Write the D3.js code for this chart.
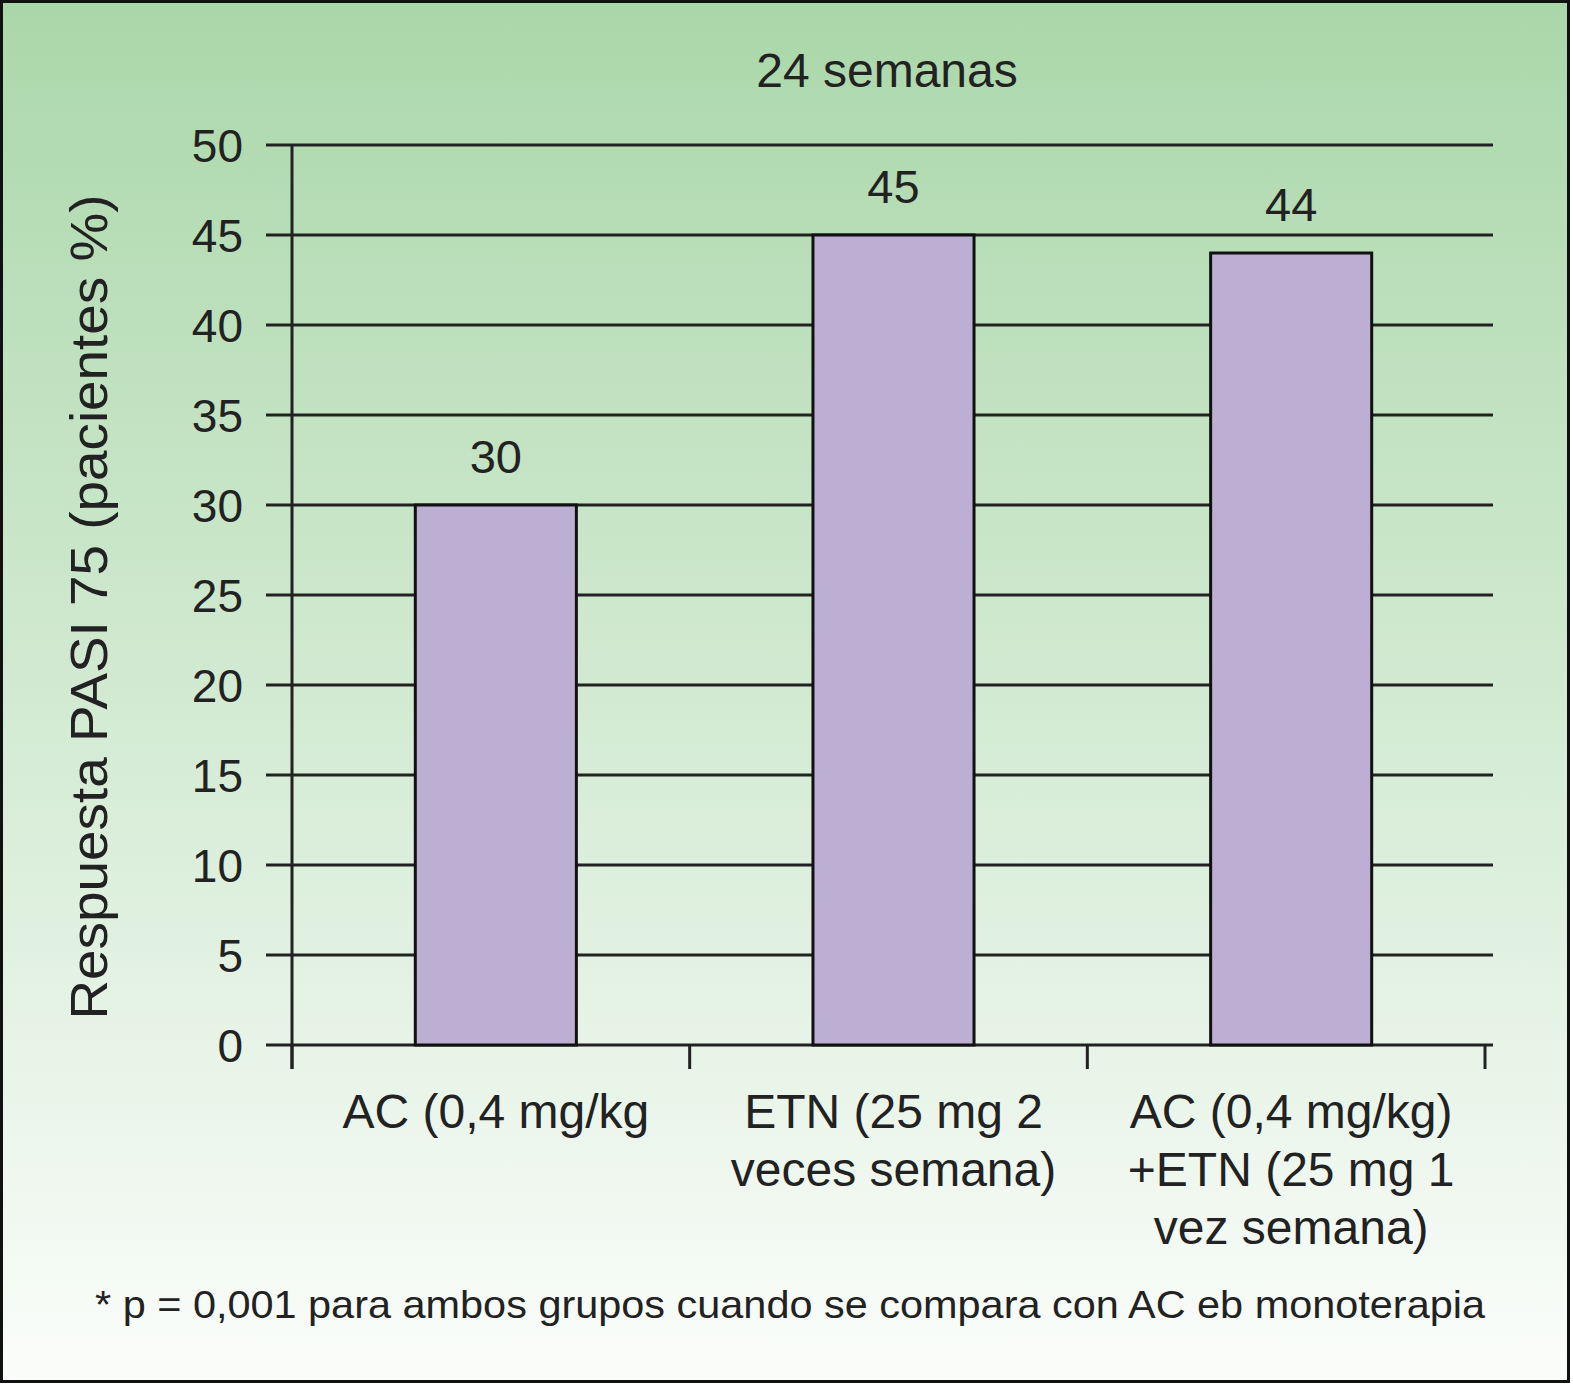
<!DOCTYPE html>
<html>
<head>
<meta charset="utf-8">
<script src="https://cdn.jsdelivr.net/npm/d3@7"></script>
<style>
  body { margin: 0; background: #fff; }
  svg { display: block; font-family: "Liberation Sans", Arial, sans-serif; }
</style>
</head>
<body>
<div class="container"></div>
<script>
// data
let categories = [
    ["AC (0,4 mg/kg"],
    ["ETN (25 mg 2", "veces semana)"],
    ["AC (0,4 mg/kg)", "+ETN (25 mg 1", "vez semana)"]
];
let values = [30, 45, 44];
let yTicks = [0, 5, 10, 15, 20, 25, 30, 35, 40, 45, 50];
let title = "24 semanas";
let yTitle = "Respuesta PASI 75 (pacientes %)";
let footnote = "* p = 0,001 para ambos grupos cuando se compara con AC eb monoterapia";

let W = 1573, H = 1385;
let margin = { top: 145, right: 84, bottom: 340, left: 292 },
    width = W - margin.left - margin.right,
    height = H - margin.top - margin.bottom;

let root = d3.select(".container")
    .append("svg")
    .attr("width", W)
    .attr("height", H);

// background gradient
let grad = root.append("defs").append("linearGradient")
    .attr("id", "bg")
    .attr("x1", 0).attr("y1", 0).attr("x2", 0).attr("y2", 1);
grad.append("stop").attr("offset", "0%").attr("stop-color", "#aad7a9");
grad.append("stop").attr("offset", "50%").attr("stop-color", "#d2ead2");
grad.append("stop").attr("offset", "100%").attr("stop-color", "#fbfdfb");

root.append("rect")
    .attr("x", 1.5).attr("y", 1.5)
    .attr("width", W - 6).attr("height", H - 5)
    .attr("fill", "url(#bg)")
    .attr("stroke", "#111")
    .attr("stroke-width", 3);

let svg = root.append("g")
    .attr("transform", "translate(" + margin.left + "," + margin.top + ")");

let x = d3.scaleBand()
    .domain(d3.range(categories.length))
    .range([0, width - 4])
    .padding(0);

let y = d3.scaleLinear()
    .domain([0, 50])
    .range([height, 0]);

let ink = "#222";

// gridlines + left ticks
svg.append("g")
    .attr("class", "grid")
    .selectAll("line")
    .data(yTicks)
    .enter()
    .append("line")
    .attr("x1", -26)
    .attr("x2", width + 4)
    .attr("y1", d => y(d))
    .attr("y2", d => y(d))
    .attr("stroke", ink)
    .attr("stroke-width", 3);

// tick labels
svg.append("g")
    .selectAll("text")
    .data(yTicks)
    .enter()
    .append("text")
    .attr("x", -49)
    .attr("y", d => y(d))
    .attr("dy", "0.36em")
    .attr("text-anchor", "end")
    .attr("font-size", 46)
    .attr("fill", ink)
    .text(d => d);

// y axis line
svg.append("line")
    .attr("x1", 0).attr("x2", 0)
    .attr("y1", 0).attr("y2", height + 24)
    .attr("stroke", ink)
    .attr("stroke-width", 3);

// x ticks at band edges
let edges = d3.range(categories.length + 1).map(i => i * x.step());
svg.append("g")
    .selectAll("line")
    .data(edges)
    .enter()
    .append("line")
    .attr("x1", d => d).attr("x2", d => d)
    .attr("y1", height).attr("y2", height + 24)
    .attr("stroke", ink)
    .attr("stroke-width", 3);

// bars
let barW = x.bandwidth() * 0.405;
svg.append("g")
    .selectAll("rect")
    .data(values)
    .enter()
    .append("rect")
    .attr("class", "bars")
    .attr("x", (d, i) => x(i) + x.bandwidth() / 2 - barW / 2 + 5)
    .attr("y", d => y(d))
    .attr("width", barW)
    .attr("height", d => height - y(d))
    .attr("fill", "#bdaed4")
    .attr("stroke", "#111")
    .attr("stroke-width", 3);

// value labels
svg.append("g")
    .selectAll("text")
    .data(values)
    .enter()
    .append("text")
    .attr("x", (d, i) => x(i) + x.bandwidth() / 2 + 5)
    .attr("y", d => y(d) - 32)
    .attr("text-anchor", "middle")
    .attr("font-size", 47)
    .attr("fill", ink)
    .text(d => d);

// category labels
let cat = svg.append("g")
    .selectAll("text")
    .data(categories)
    .enter()
    .append("text")
    .attr("text-anchor", "middle")
    .attr("font-size", 48)
    .attr("fill", ink)
    .attr("transform", (d, i) => "translate(" + (x(i) + x.bandwidth() / 2 + 5) + "," + (height + 83) + ")");
cat.selectAll("tspan")
    .data(d => d)
    .enter()
    .append("tspan")
    .attr("x", 0)
    .attr("y", (d, i) => i * 58)
    .text(d => d);

// chart title
root.append("text")
    .attr("x", 887)
    .attr("y", 87)
    .attr("text-anchor", "middle")
    .attr("font-size", 48)
    .attr("fill", ink)
    .text(title);

// y title
root.append("text")
    .attr("transform", "translate(107,607) rotate(-90)")
    .attr("text-anchor", "middle")
    .attr("font-size", 52)
    .attr("fill", ink)
    .attr("textLength", 825)
    .attr("lengthAdjust", "spacingAndGlyphs")
    .text(yTitle);

// footnote
root.append("text")
    .attr("x", 790)
    .attr("y", 1318)
    .attr("text-anchor", "middle")
    .attr("font-size", 39)
    .attr("fill", ink)
    .attr("textLength", 1390)
    .attr("lengthAdjust", "spacingAndGlyphs")
    .text(footnote);
</script>
</body>
</html>
